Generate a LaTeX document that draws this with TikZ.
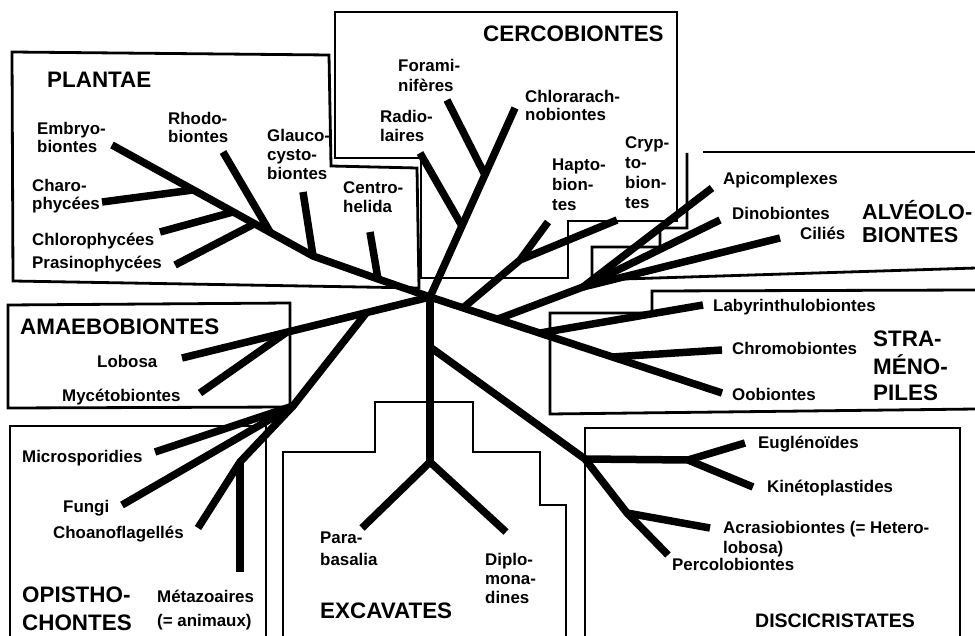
\documentclass[tikz,border=0pt]{standalone}
\usepackage{fontspec}
\setmainfont{Liberation Sans}[BoldFont={Liberation Sans Bold}]
\newfontfamily\labfont{Liberation Sans Bold}
\newcommand\mlines[3]{{\labfont\fontsize{#1}{#2}\selectfont\begin{tabular}[t]{@{}l@{}}#3\end{tabular}}}
\newcommand\lsz{16.9}
\newcommand\tsz{22.4}
\begin{document}
\begin{tikzpicture}[x=1pt,y=-1pt,
  box/.style={line width=2.8pt, line join=miter},
  br/.style={line width=7.5pt, line cap=butt, line join=round},
  lbl/.style={anchor=base west, inner sep=0pt, font=\labfont},
]
\useasboundingbox (0,0) rectangle (975,636);

% ---------- boxes ----------
\draw[box] (12,52) -- (329,55) -- (331,166) -- (417,168) -- (419,288) -- (13,281) -- cycle;
\draw[box] (335,12) -- (677,12) -- (677,221) -- (568,221) -- (568,278) -- (421,278) -- (421,158) -- (335,158) -- cycle;
\draw[box] (703,152) -- (976,152);
\draw[box] (687,153) -- (687,228) -- (660,228) -- (660,247) -- (592,247) -- (592,280) -- (976,268);
\draw[box] (976,290) -- (652,291) -- (652,313) -- (550,313) -- (550,414) -- (976,409);
\draw[box] (8,305) -- (290,303) -- (290,407) -- (8,408) -- cycle;
\draw[box] (10,637) -- (10,426) -- (266,426) -- (266,637);
\draw[box] (283,637) -- (283,452) -- (375,452) -- (375,402) -- (473,402) -- (473,452) -- (540,452) -- (540,505) -- (566,505) -- (566,637);
\draw[box] (585,637) -- (585,428) -- (960,428) -- (960,637);

% ---------- coordinates ----------
\coordinate (O) at (430,297);
% Plantae
\coordinate (pc) at (378,279);
\coordinate (pg) at (313,256);
\coordinate (pr) at (270,232);
\coordinate (pp) at (254,224);
\coordinate (pl) at (233,212);
\coordinate (ph) at (193,190);
\coordinate (tEmb) at (112,145);
\coordinate (tChar) at (102,202);
\coordinate (tChlo) at (160,232);
\coordinate (tPras) at (175,265);
\coordinate (tRhod) at (223,152);
\coordinate (tGlau) at (303,192);
\coordinate (tCent) at (370,232);
% Cercobiontes
\coordinate (tChlr) at (515,108);
\coordinate (cr) at (462,226);
\coordinate (cf) at (485,175);
\coordinate (tRad) at (420,153);
\coordinate (tFor) at (447,100);
% Hapto / Crypto
\coordinate (hs) at (463,308);
\coordinate (hj) at (520,260);
\coordinate (tHap) at (548,222);
\coordinate (tCry) at (617,220);
% Alveolobiontes
\coordinate (as) at (498,319);
\coordinate (aj) at (583,287);
\coordinate (tApi) at (712,188);
\coordinate (tDin) at (720,220);
\coordinate (tCil) at (780,238);
% Stramenopiles
\coordinate (tOob) at (722,393);
\coordinate (sl) at (540,333);
\coordinate (sc) at (612,357);
\coordinate (tLab) at (703,305);
\coordinate (tChr) at (722,350);
% Excavates
\coordinate (ej) at (430,462);
\coordinate (tPar) at (362,528);
\coordinate (tDip) at (506,532);
% Discicristates
\coordinate (ds) at (430,347);
\coordinate (dj1) at (585,459);
\coordinate (dj2) at (627,513);
\coordinate (tPer) at (668,555);
\coordinate (dk) at (688,460);
\coordinate (tEug) at (745,443);
\coordinate (tKin) at (753,487);
\coordinate (tAcr) at (710,528);
% Amaebobiontes / Opisthochontes
\coordinate (tLob) at (182,358);
\coordinate (mj) at (287,332);
\coordinate (oj) at (367,312);
\coordinate (tMyc) at (200,393);
\coordinate (om) at (293,406);
\coordinate (oc) at (240,462);
\coordinate (tCho) at (198,528);
\coordinate (tMic) at (155,452);
\coordinate (tFun) at (122,505);
\coordinate (tMet) at (240,572);

% ---------- branches ----------
\draw[br] (O) -- (pc) -- (pg) -- (tEmb);
\draw[br] (tChar) -- (ph);
\draw[br] (tChlo) -- (pl);
\draw[br] (tPras) -- (pp);
\draw[br] (tRhod) -- (pr);
\draw[br] (tGlau) -- (pg);
\draw[br] (tCent) -- (pc);

\draw[br] (O) -- (tChlr);
\draw[br] (tRad) -- (cr);
\draw[br] (tFor) -- (cf);

\draw[br] (hs) -- (hj) -- (tHap);
\draw[br] (hj) -- (tCry);

\draw[br] (as) -- (aj) -- (tApi);
\draw[br] (aj) -- (tDin);
\draw[br] (aj) -- (tCil);

\draw[br] (O) -- (tOob);
\draw[br] (sl) -- (tLab);
\draw[br] (sc) -- (tChr);

\draw[br, line width=8.5pt] (O) -- (ej);
\draw[br] (ej) -- (tPar);
\draw[br] (ej) -- (tDip);

\draw[br] (ds) -- (dj1) -- (dj2) -- (tPer);
\draw[br] (dj1) -- (dk) -- (tEug);
\draw[br] (dk) -- (tKin);
\draw[br] (dj2) -- (tAcr);

\draw[br] (O) -- (tLob);
\draw[br] (mj) -- (tMyc);
\draw[br] (oj) -- (om) -- (oc) -- (tCho);
\draw[br] (tMic) -- (om);
\draw[br] (tFun) -- (om);
\draw[br] (oc) -- (tMet);

% ---------- titles ----------
\node[lbl] (plantae) at (47,88) {\mlines{\tsz}{24}{PLANTAE}};
\node[lbl] (cerco) at (483,42) {\mlines{\tsz}{24}{CERCOBIONTES}};
\node[lbl] (alveo) at (862,220) {\mlines{21.6}{23}{ALVÉOLO-\\BIONTES}};
\node[lbl] (strameno) at (873,347) {\mlines{\tsz}{25.7}{STRA-\\MÉNO-\\PILES}};
\node[lbl] (amaebo) at (20,335) {\mlines{\tsz}{24}{AMAEBOBIONTES}};
\node[lbl] (opistho) at (22,602) {\mlines{\tsz}{28}{OPISTHO-\\CHONTES}};
\node[lbl] (excav) at (320,618) {\mlines{\tsz}{24}{EXCAVATES}};
\node[lbl] (disci) at (755,627) {\mlines{19.5}{24}{DISCICRISTATES}};

% ---------- labels ----------
\node[lbl] (lEmb) at (37,135) {\mlines{\lsz}{16.7}{Embryo-\\biontes}};
\node[lbl] (lChar) at (32,191.7) {\mlines{\lsz}{16.5}{Charo-\\phycées}};
\node[lbl] (lChlo) at (32,246) {\mlines{\lsz}{18}{Chlorophycées}};
\node[lbl] (lPras) at (32,269) {\mlines{\lsz}{18}{Prasinophycées}};
\node[lbl] (lRhod) at (168,125) {\mlines{\lsz}{16.7}{Rhodo-\\biontes}};
\node[lbl] (lGlau) at (267,141.7) {\mlines{\lsz}{19}{Glauco-\\cysto-\\biontes}};
\node[lbl] (lCent) at (343,194) {\mlines{\lsz}{19}{Centro-\\helida}};

\node[lbl] (lFor) at (398,72) {\mlines{\lsz}{20}{Forami-\\nifères}};
\node[lbl] (lRad) at (380,123) {\mlines{\lsz}{18.7}{Radio-\\laires}};
\node[lbl] (lChlr) at (525,103) {\mlines{\lsz}{16}{Chlorarach-\\nobiontes}};
\node[lbl] (lHap) at (552,171) {\mlines{\lsz}{20}{Hapto-\\bion-\\tes}};
\node[lbl] (lCry) at (625,149) {\mlines{\lsz}{20}{Cryp-\\to-\\bion-\\tes}};

\node[lbl] (lApi) at (723,185) {\mlines{\lsz}{18}{Apicomplexes}};
\node[lbl] (lDin) at (732,220) {\mlines{\lsz}{18}{Dinobiontes}};
\node[lbl] (lCil) at (800,240) {\mlines{\lsz}{18}{Ciliés}};

\node[lbl] (lLab) at (713,312) {\mlines{\lsz}{18}{Labyrinthulobiontes}};
\node[lbl] (lChr) at (732,355) {\mlines{\lsz}{18}{Chromobiontes}};
\node[lbl] (lOob) at (732,400) {\mlines{\lsz}{18}{Oobiontes}};

\node[lbl] (lLob) at (97,367) {\mlines{\lsz}{18}{Lobosa}};
\node[lbl] (lMyc) at (62,402) {\mlines{\lsz}{18}{Mycétobiontes}};

\node[lbl] (lMic) at (22,462) {\mlines{\lsz}{18}{Microsporidies}};
\node[lbl] (lFun) at (63,512) {\mlines{\lsz}{18}{Fungi}};
\node[lbl] (lCho) at (53,538) {\mlines{\lsz}{18}{Choanoflagellés}};
\node[lbl] (lMet) at (157,602) {\mlines{\lsz}{24}{Métazoaires\\(= animaux)}};

\node[lbl] (lPar) at (320,543) {\mlines{\lsz}{22}{Para-\\basalia}};
\node[lbl] (lDip) at (485,565) {\mlines{\lsz}{19}{Diplo-\\mona-\\dines}};

\node[lbl] (lEug) at (758,448) {\mlines{\lsz}{18}{Euglénoïdes}};
\node[lbl] (lKin) at (767,492) {\mlines{\lsz}{18}{Kinétoplastides}};
\node[lbl] (lAcr) at (723,533) {\mlines{\lsz}{20}{Acrasiobiontes (= Hetero-\\lobosa)}};
\node[lbl] (lPer) at (672,570) {\mlines{\lsz}{18}{Percolobiontes}};
\end{tikzpicture}
\end{document}
